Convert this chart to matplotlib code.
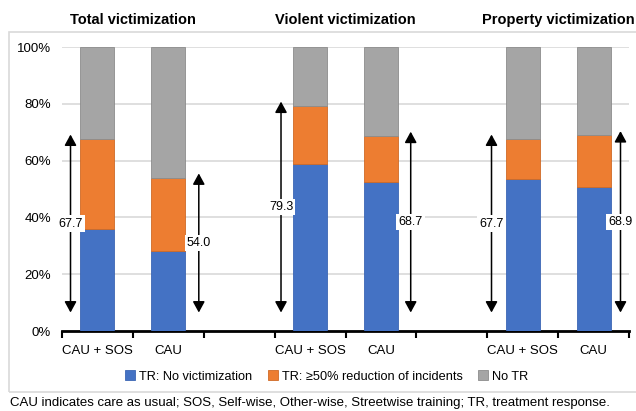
import numpy as np
import matplotlib.pyplot as plt
from matplotlib.patches import Rectangle

plt.rcParams['font.family'] = ['Liberation Sans', 'DejaVu Sans']

# categories (blank slots separate the three panels)
cats = ['CAU + SOS', 'CAU', '', 'CAU + SOS', 'CAU', '', 'CAU + SOS', 'CAU']
groups = ['Total victimization', 'Violent victimization', 'Property victimization']

no_victim = [35.8, 28.2, 0, 58.8, 52.6, 0, 53.5, 50.8]
total_tr = [67.7, 54.0, 0, 79.3, 68.7, 0, 67.7, 68.9]
reduction = [t - n for t, n in zip(total_tr, no_victim)]
no_tr = [100 - t if t else 0 for t in total_tr]

arrow_side = [-0.38, 0.43, 0, -0.41, 0.42, 0, -0.44, 0.38]

blue = '#4472C4'
orange = '#ED7D31'
gray = '#A5A5A5'

fig = plt.figure(figsize=(6.36, 4.11), dpi=100)
ax = fig.add_axes([0.0975, 0.1946, 0.8915, 0.691])

# outer chart border
fig.patches.append(Rectangle((9 / 636, 1 - 392 / 411), 1.0, (392 - 32) / 411,
                             transform=fig.transFigure, fill=False,
                             edgecolor='#D9D9D9', lw=1.2, zorder=0))

x = np.arange(len(cats))
keep = [i for i, c in enumerate(cats) if c]
xk = x[keep]
w = 0.48

ax.bar(xk, [no_victim[i] for i in keep], w, color=blue, edgecolor='#3C66B4',
       lw=0.6, label='TR: No victimization', zorder=3)
ax.bar(xk, [reduction[i] for i in keep], w, bottom=[no_victim[i] for i in keep],
       color=orange, edgecolor='#CF6A26', lw=0.6,
       label='TR: \u226550% reduction of incidents', zorder=3)
ax.bar(xk, [no_tr[i] for i in keep], w, bottom=[total_tr[i] for i in keep],
       color=gray, edgecolor='#8C8C8C', lw=0.6, label='No TR', zorder=3)

# arrows with values
for i in keep:
    ax_x = x[i] + arrow_side[i]
    top = total_tr[i] + 1.5
    bot = 6.5
    ax.annotate('', xy=(ax_x, top), xytext=(ax_x, bot),
                arrowprops=dict(arrowstyle='<|-|>,head_length=0.55,head_width=0.3',
                                color='black', lw=1.1,
                                mutation_scale=12, shrinkA=0, shrinkB=0),
                zorder=4)
    ax.text(ax_x, (top + bot) / 2, f'{total_tr[i]:.1f}', ha='center', va='center',
            fontsize=9, zorder=5,
            bbox=dict(facecolor='white', edgecolor='none', pad=1.5))

ax.set_xlim(-0.5, len(cats) - 0.5)
ax.set_ylim(0, 100)
ax.set_yticks(range(0, 101, 20))
ax.set_yticklabels([f'{v}%' for v in range(0, 101, 20)], fontsize=9.5)
ax.yaxis.grid(True, color='#D9D9D9', lw=1.2, zorder=0)
ax.tick_params(axis='y', length=0, pad=8)

ax.set_xticks(x)
ax.set_xticklabels(cats, fontsize=9.5)
ax.set_xticks(np.arange(-0.5, len(cats), 1), minor=True)
ax.tick_params(axis='x', which='major', length=0, pad=10)
ax.tick_params(axis='x', which='minor', length=5, width=1.5, direction='out')

for s in ['top', 'right', 'left']:
    ax.spines[s].set_visible(False)
ax.spines['bottom'].set_linewidth(2)

for k, g in enumerate(groups):
    ax.text(3 * k + 0.5, 1.095, g, transform=ax.get_xaxis_transform(),
            ha='center', va='center', fontsize=10.5, fontweight='bold')

ax.legend(loc='center', bbox_to_anchor=(0.467, -0.16), ncol=3, frameon=False,
          fontsize=9.2, handlelength=0.8, handleheight=0.8, handletextpad=0.3,
          columnspacing=1.2)

fig.text(10 / 636, 1 - 403 / 411,
         'CAU indicates care as usual; SOS, Self-wise, Other-wise, Streetwise training; TR, treatment response.',
         ha='left', va='center', fontsize=9.55)

fig.savefig('out.png', dpi=100)
